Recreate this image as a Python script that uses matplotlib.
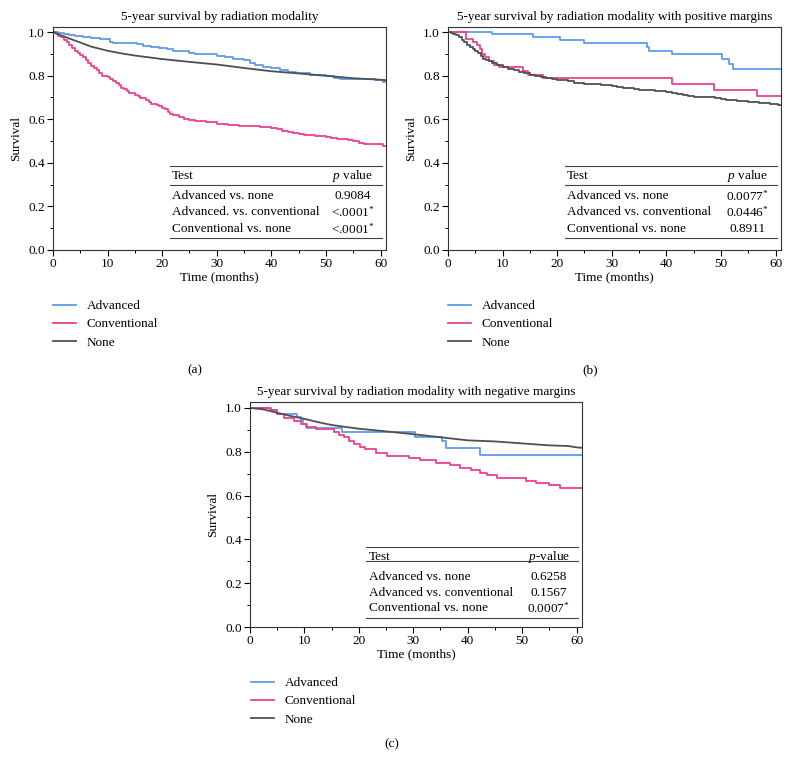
import numpy as np
import matplotlib
matplotlib.use("Agg")
import matplotlib.pyplot as plt
from matplotlib.lines import Line2D

plt.rcParams["font.family"] = ["Liberation Serif", "DejaVu Serif"]
plt.rcParams["mathtext.fontset"] = "custom"
plt.rcParams["mathtext.rm"] = "Liberation Serif"
plt.rcParams["mathtext.it"] = "Liberation Serif:italic"
plt.rcParams["font.size"] = 9.5

# --------------------------
# Data
# --------------------------
series_names = ["Advanced", "Conventional", "None"]
colors = ["#5C9DEB", "#EC418F", "#505050"]

# (a) all patients
a_adv_t = [0, 1, 2, 3, 4, 5.5, 7, 8.6, 10.4, 11, 15.3, 16.5, 18, 19.5, 20.8, 22, 23.2, 25, 26, 30,
           31.5, 33, 35, 36, 37, 38.5, 40, 41.5, 43, 44.5, 47, 50, 51.5, 52.5, 59, 60.5]
a_adv_s = [1.0, 0.996, 0.992, 0.986, 0.981, 0.976, 0.972, 0.968, 0.956, 0.95, 0.946, 0.938, 0.93,
           0.925, 0.92, 0.915, 0.911, 0.905, 0.9, 0.89, 0.885, 0.877, 0.87, 0.86, 0.85, 0.84, 0.835,
           0.825, 0.815, 0.81, 0.805, 0.8, 0.79, 0.785, 0.78, 0.77]
a_con_t = [0, 0.5, 1, 1.5, 2, 2.5, 3, 3.5, 4, 4.5, 5, 5.5, 6, 6.5, 7, 7.5, 8, 8.5, 9, 10,
           10.5, 11, 11.5, 12, 12.5, 13, 13.5, 14, 15, 15.5, 16, 17, 17.5, 18, 19, 19.5, 20, 20.5, 21, 21.5,
           22, 23, 24, 25, 26, 28, 30, 32, 34, 36, 38, 40, 41, 42, 43, 44, 45, 46, 48, 50,
           51, 52, 53, 54, 55, 56, 57, 58, 60.5]
a_con_s = [1.0, 0.99, 0.983, 0.975, 0.965, 0.955, 0.94, 0.925, 0.915, 0.905, 0.895, 0.885, 0.87,
           0.86, 0.845, 0.835, 0.825, 0.81, 0.8, 0.792, 0.785, 0.775, 0.765, 0.755, 0.745, 0.738,
           0.73, 0.722, 0.712, 0.705, 0.698, 0.69, 0.68, 0.672, 0.665, 0.66, 0.652, 0.645, 0.635,
           0.625, 0.62, 0.61, 0.603, 0.595, 0.59, 0.587, 0.58, 0.575, 0.57, 0.567, 0.563, 0.56,
           0.555, 0.548, 0.54, 0.535, 0.53, 0.527, 0.522, 0.518, 0.515, 0.51, 0.507, 0.503, 0.5,
           0.493, 0.488, 0.485, 0.478]
a_non_t = [0, 1, 2, 3, 5, 7, 10, 12.5, 15, 20, 25, 30, 35, 40, 45, 50, 55, 60, 61]
a_non_s = [1.0, 0.99, 0.98, 0.97, 0.952, 0.933, 0.914, 0.902, 0.892, 0.876, 0.863, 0.851, 0.835,
           0.82, 0.81, 0.799, 0.788, 0.781, 0.779]

# (b) positive margins
b_adv_t = [0, 8.0, 15.6, 20.5, 25.0, 36.4, 36.9, 41.0, 50.2, 51.5, 52.2]
b_adv_s = [1.0, 0.99, 0.975, 0.962, 0.95, 0.93, 0.915, 0.9, 0.877, 0.855, 0.832]
b_con_t = [0, 3.3, 4.5, 5.3, 5.9, 6.3, 6.7, 7.6, 8.5, 9.4, 13.8, 14.6, 17.4, 22.0, 41.0, 48.8, 56.6]
b_con_s = [1.0, 0.97, 0.955, 0.94, 0.92, 0.9, 0.885, 0.865, 0.85, 0.838, 0.82, 0.805, 0.79, 0.787,
           0.762, 0.735, 0.707]
b_non_t = [0, 0.5, 1, 1.5, 2, 2.5, 3, 3.5, 4, 4.5, 5, 5.5, 6, 6.5, 7, 7.5, 8, 9, 10, 11,
           12, 13, 14, 15, 16, 17, 18, 19, 20, 21, 22, 23, 24, 25, 26, 28, 30, 31, 32, 33,
           34, 35, 36, 38, 40, 41, 42, 43, 44, 45, 47, 49, 50, 51, 52, 53, 54, 55, 56, 57,
           59, 60.5]
b_non_s = [1.0, 0.997, 0.993, 0.987, 0.978, 0.965, 0.955, 0.942, 0.93, 0.92, 0.912, 0.902, 0.89,
           0.878, 0.872, 0.865, 0.858, 0.848, 0.838, 0.83, 0.825, 0.818, 0.812, 0.805, 0.8, 0.795,
           0.79, 0.786, 0.782, 0.778, 0.773, 0.768, 0.764, 0.762, 0.76, 0.757, 0.752, 0.748, 0.745,
           0.741, 0.738, 0.735, 0.732, 0.728, 0.725, 0.72, 0.715, 0.71, 0.706, 0.702, 0.7, 0.698,
           0.694, 0.69, 0.688, 0.685, 0.683, 0.68, 0.677, 0.674, 0.671, 0.667]

# (c) negative margins
c_adv_t = [0, 3.6, 5.0, 8.6, 9.4, 9.8, 10.5, 16.9, 30.3, 35.2, 36.0, 42.3]
c_adv_s = [1.0, 0.99, 0.97, 0.96, 0.945, 0.925, 0.91, 0.89, 0.868, 0.85, 0.817, 0.785]
c_con_t = [0, 3.8, 5.0, 6.2, 8.1, 9.3, 10.3, 12.1, 15.4, 16.3, 17.2, 18.2, 19.1, 20.3, 21.2, 23.1,
           25.2, 29.2, 31.3, 34.2, 36.8, 38.6, 40.6, 42.3, 43.6, 45.3, 50.8, 52.6, 55.0, 57.0]
c_con_s = [1.0, 0.99, 0.97, 0.953, 0.94, 0.928, 0.915, 0.905, 0.892, 0.877, 0.865, 0.85, 0.835,
           0.823, 0.812, 0.795, 0.78, 0.77, 0.76, 0.75, 0.74, 0.728, 0.715, 0.705, 0.692, 0.68,
           0.668, 0.655, 0.648, 0.635]
c_non_t = [0, 2.5, 5, 7.5, 10, 12.5, 15, 20, 25, 30, 35, 40, 45, 50, 55, 58.5, 60, 61]
c_non_s = [1.0, 0.993, 0.978, 0.963, 0.95, 0.935, 0.922, 0.905, 0.893, 0.88, 0.866, 0.852, 0.847,
           0.838, 0.829, 0.826, 0.82, 0.818]

titles = [
    "5-year survival by radiation modality",
    "5-year survival by radiation modality with positive margins",
    "5-year survival by radiation modality with negative margins",
]
tests = ["Advanced vs. none", "Advanced. vs. conventional", "Conventional vs. none"]
tests_bc = ["Advanced vs. none", "Advanced vs. conventional", "Conventional vs. none"]
a_pvals = ["0.9084", "<.0001$^{*}$", "<.0001$^{*}$"]
b_pvals = ["0.0077$^{*}$", "0.0446$^{*}$", "0.8911"]
c_pvals = ["0.6258", "0.1567", "0.0007$^{*}$"]

T_END = 61


def km(ax, t, s, color, step=True):
    t = list(t) + [T_END]
    s = list(s) + [s[-1]]
    if step:
        ax.step(t, s, where="post", color=color, lw=1.3)
    else:
        ax.plot(t, s, color=color, lw=1.3)


def style(ax, title, ytop):
    ax.set_xlim(0, T_END)
    ax.set_ylim(0, ytop)
    ax.set_xticks(np.arange(0, 61, 10))
    ax.set_xticks(np.arange(0, 61, 5), minor=True)
    ax.set_yticks(np.arange(0, 1.01, 0.2))
    ax.set_yticks(np.arange(0, 1.01, 0.1), minor=True)
    ax.set_yticklabels(["0.0", "0.2", "0.4", "0.6", "0.8", "1.0"])
    ax.tick_params(which="major", direction="out", length=4, width=0.8, pad=2)
    ax.tick_params(which="minor", direction="out", length=2.5, width=0.7)
    for sp in ax.spines.values():
        sp.set_linewidth(0.8)
        sp.set_color("#333333")
    ax.set_title(title, pad=5, fontsize=9.5)
    ax.set_xlabel("Time (months)", labelpad=1)
    ax.set_ylabel("Survival", labelpad=4)


def table(ax, header, names, pvals, ys):
    top, head, rule, r1, r2, r3, bottom = ys
    for y in (top, rule, bottom):
        ax.plot([21.4, 60.2], [y, y], color="#444444", lw=0.8)
    ax.text(21.8, head, "Test", va="center", ha="left")
    ax.text(54.9, head, header, va="center", ha="center")
    for name, p, y in zip(names, pvals, (r1, r2, r3)):
        ax.text(21.8, y, name, va="center", ha="left")
        ax.text(54.9, y, p, va="center", ha="center")


def legend(fig, x, y):
    handles = [Line2D([], [], color=c, lw=1.3) for c in colors]
    fig.legend(handles, series_names, loc="upper left", bbox_to_anchor=(x, y),
               bbox_transform=fig.transFigure, frameon=False, borderpad=0,
               borderaxespad=0, handlelength=1.75, handletextpad=0.8,
               labelspacing=0.45)


W, H = 789, 771
fig = plt.figure(figsize=(W / 100, H / 100), dpi=100)

ax_a = fig.add_axes([53 / W, 1 - 250 / H, 333 / W, 223 / H])
ax_b = fig.add_axes([448 / W, 1 - 250 / H, 333 / W, 223 / H])
ax_c = fig.add_axes([250 / W, 1 - 627 / H, 332 / W, 225 / H])

panels = [
    (ax_a, (a_adv_t, a_adv_s), (a_con_t, a_con_s), (a_non_t, a_non_s), False),
    (ax_b, (b_adv_t, b_adv_s), (b_con_t, b_con_s), (b_non_t, b_non_s), True),
    (ax_c, (c_adv_t, c_adv_s), (c_con_t, c_con_s), (c_non_t, c_non_s), False),
]

for ax, adv, con, non, non_step in panels:
    km(ax, adv[0], adv[1], colors[0])
    km(ax, con[0], con[1], colors[1])
    km(ax, non[0], non[1], colors[2], step=non_step)

style(ax_a, titles[0], 1.023)
style(ax_b, titles[1], 1.023)
style(ax_c, titles[2], 1.027)

table(ax_a, "$p$ value", tests, a_pvals, (0.385, 0.34, 0.30, 0.248, 0.174, 0.096, 0.054))
table(ax_b, "$p$ value", tests_bc, b_pvals, (0.385, 0.34, 0.30, 0.248, 0.174, 0.096, 0.054))
table(ax_c, "$p$-value", tests_bc, c_pvals, (0.365, 0.32, 0.30, 0.228, 0.155, 0.087, 0.041))

legend(fig, 53 / W, 1 - 300 / H)
legend(fig, 448 / W, 1 - 300 / H)
legend(fig, 251 / W, 1 - 677 / H)

fig.text(195 / W, 1 - 370 / H, "(a)", ha="center", va="center")
fig.text(590 / W, 1 - 370 / H, "(b)", ha="center", va="center")
fig.text(392 / W, 1 - 744 / H, "(c)", ha="center", va="center")

fig.savefig("out.png", dpi=100)
